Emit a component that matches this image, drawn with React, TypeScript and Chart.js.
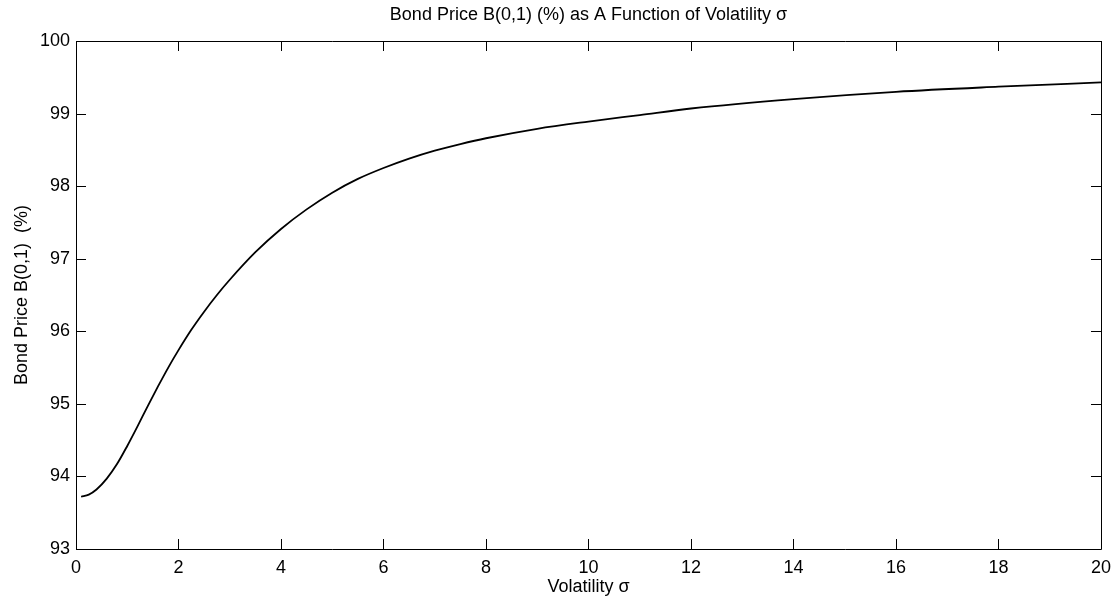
import React, { useEffect, useRef } from "react";
import { Chart, registerables } from "chart.js";

Chart.register(...registerables);

const volatility = [0.1, 0.25, 0.4, 0.6, 0.8, 1.0, 1.2, 1.4, 1.6, 1.8, 2.0, 2.25, 2.5, 2.75, 3.0, 3.5, 4.0, 4.5, 5.0, 5.5, 6.0, 6.5, 7.0, 7.5, 8.0, 9.0, 10.0, 11.0, 12.0, 14.0, 16.0, 18.0, 20.0];
const bondPrice = [93.72, 93.75, 93.82, 93.97, 94.17, 94.42, 94.69, 94.97, 95.24, 95.5, 95.74, 96.02, 96.27, 96.5, 96.71, 97.09, 97.41, 97.68, 97.91, 98.1, 98.25, 98.38, 98.49, 98.58, 98.66, 98.79, 98.89, 98.98, 99.07, 99.2, 99.3, 99.37, 99.43];
const xTicks = [0, 2, 4, 6, 8, 10, 12, 14, 16, 18, 20];
const yTicks = [93, 94, 95, 96, 97, 98, 99, 100];

const titleText = "Bond Price B(0,1) (%) as A Function of Volatility σ";
const xLabel = "Volatility σ";
const yLabel = "Bond Price B(0,1)  (%)";

const FONT = "'Liberation Sans', Arial, Helvetica, sans-serif";

const boxPlugin = {
  id: "matlabBox",
  afterDraw(chart: any) {
    const { ctx, chartArea } = chart;
    const { left, right, top, bottom } = chartArea;
    const xs = chart.scales.x;
    const ys = chart.scales.y;
    const tl = 10;
    ctx.save();
    ctx.strokeStyle = "#000";
    ctx.lineWidth = 1;
    ctx.beginPath();
    ctx.rect(Math.round(left) + 0.5, Math.round(top) + 0.5, Math.round(right - left), Math.round(bottom - top));
    ctx.stroke();
    ctx.beginPath();
    xTicks.forEach((v) => {
      const px = Math.round(xs.getPixelForValue(v)) + 0.5;
      ctx.moveTo(px, bottom);
      ctx.lineTo(px, bottom - tl);
      ctx.moveTo(px, top);
      ctx.lineTo(px, top + tl);
    });
    yTicks.forEach((v) => {
      const py = Math.round(ys.getPixelForValue(v)) + 0.5;
      ctx.moveTo(left, py);
      ctx.lineTo(left + tl, py);
      ctx.moveTo(right, py);
      ctx.lineTo(right - tl, py);
    });
    ctx.stroke();
    ctx.restore();
  },
};

export default function App() {
  const ref = useRef<HTMLCanvasElement | null>(null);

  useEffect(() => {
    if (!ref.current) return;
    const chart = new Chart(ref.current, {
      type: "line",
      data: {
        datasets: [
          {
            data: volatility.map((v, i) => ({ x: v, y: bondPrice[i] })),
            borderColor: "#000",
            borderWidth: 1.8,
            pointRadius: 0,
            fill: false,
            cubicInterpolationMode: "monotone",
          },
        ],
      },
      options: {
        responsive: false,
        animation: false,
        devicePixelRatio: 1,
        layout: { padding: { top: 0, right: 15, bottom: 0, left: 0 } },
        plugins: {
          legend: { display: false },
          tooltip: { enabled: false },
          title: {
            display: true,
            text: titleText,
            fullSize: false,
            color: "#000",
            font: { family: FONT, size: 18, weight: "normal", lineHeight: 1.2 },
            padding: { top: 4, bottom: 15.4 },
          },
        },
        scales: {
          x: {
            type: "linear",
            min: 0,
            max: 20,
            afterBuildTicks: (scale: any) => {
              scale.ticks = xTicks.map((v) => ({ value: v }));
            },
            afterFit: (scale: any) => {
              scale.height = 49;
            },
            grid: { display: false, drawTicks: false },
            border: { display: false },
            ticks: {
              color: "#000",
              padding: 8,
              maxRotation: 0,
              autoSkip: false,
              font: { family: FONT, size: 18 },
            },
            title: {
              display: true,
              text: xLabel,
              color: "#000",
              font: { family: FONT, size: 18, lineHeight: 1.2 },
              padding: { top: 0, bottom: 0 },
            },
          },
          y: {
            type: "linear",
            min: 93,
            max: 100,
            afterBuildTicks: (scale: any) => {
              scale.ticks = yTicks.map((v) => ({ value: v }));
            },
            afterFit: (scale: any) => {
              scale.width = 76;
            },
            grid: { display: false, drawTicks: false },
            border: { display: false },
            ticks: {
              color: "#000",
              padding: 6,
              autoSkip: false,
              font: { family: FONT, size: 18 },
            },
            title: {
              display: true,
              text: yLabel,
              color: "#000",
              font: { family: FONT, size: 18, lineHeight: 1.2 },
              padding: { top: 11, bottom: 0 },
            },
          },
        },
      },
      plugins: [boxPlugin],
    } as any);
    return () => chart.destroy();
  }, []);

  return (
    <div style={{ position: "fixed", left: 0, top: 0, width: 1119, height: 598, background: "#fff" }}>
      <canvas ref={ref} width={1119} height={598} style={{ display: "block" }} />
    </div>
  );
}
